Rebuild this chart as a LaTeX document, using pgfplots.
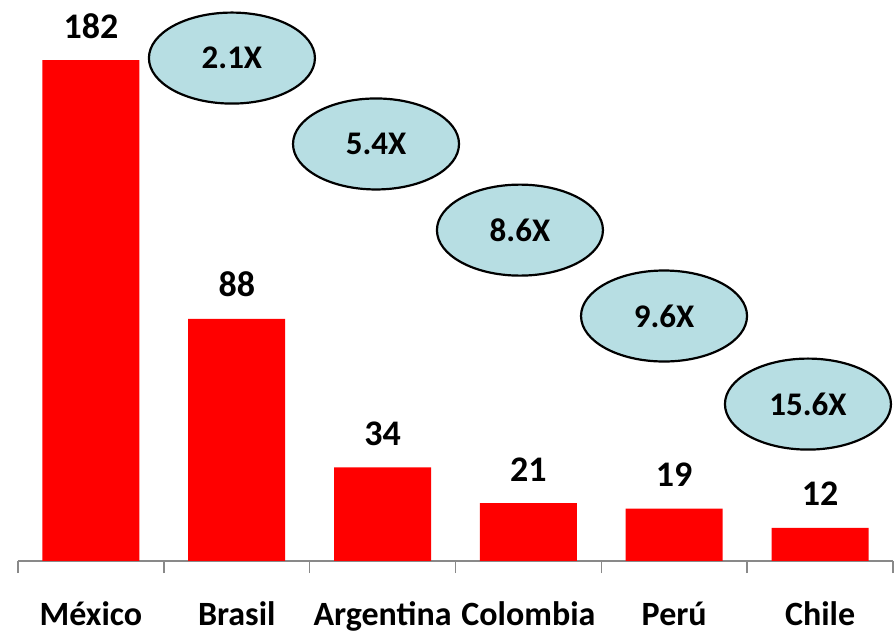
\documentclass[border=0pt]{standalone}
\usepackage{pgfplots}
\pgfplotsset{compat=1.18}
\usepackage{fontspec}
\setmainfont{Carlito}
\usetikzlibrary{shapes.geometric}
\definecolor{barred}{RGB}{255,0,0}
\definecolor{ellfill}{RGB}{183,222,227}
\definecolor{axgray}{RGB}{137,137,137}
\begin{document}
\begin{tikzpicture}
\useasboundingbox (-9pt,-36pt) rectangle (439pt,280.5pt);
\begin{axis}[
  scale only axis, width=437.5pt, height=280.5pt,
  xmin=-0.5, xmax=5.5, ymin=0, ymax=203.8,
  axis x line*=bottom, axis y line=none,
  x axis line style={axgray, line width=0.75pt, -},
  xtick={0,...,5},
  xticklabels={México,Brasil,Argentina,Colombia,Perú,Chile},
  major tick length=0pt,
  minor xtick={-0.5,0.5,...,5.5},
  minor tick length=6pt,
  xtick align=outside,
  tick style={axgray, line width=0.75pt},
  xticklabel style={font=\fontsize{17}{20}\selectfont\bfseries, anchor=base, yshift=-32.5pt},
  clip=false,
  nodes near coords={\pgfmathprintnumber[assume math mode=true]{\pgfplotspointmeta}},
  nodes near coords style={font=\fontsize{18}{21}\selectfont\bfseries, anchor=base, yshift=11pt, text=black},
]
\addplot[ybar, bar width=48.5pt, fill=barred, draw=none] coordinates {(0,182)(1,88)(2,34)(3,21)(4,19)(5,12)};
\tikzset{ell/.style={ellipse, draw=black, line width=1.1pt, fill=ellfill, minimum width=83pt, minimum height=45.5pt, inner sep=0pt, font=\fontsize{16.5}{19}\selectfont\bfseries}}
\node[ell] at (axis cs:0.967,182.7) {2.1X};
\node[ell] at (axis cs:1.955,151.5) {5.4X};
\node[ell] at (axis cs:2.942,120.2) {8.6X};
\node[ell] at (axis cs:3.93,89) {9.6X};
\node[ell] at (axis cs:4.917,57) {15.6X};
\end{axis}
\end{tikzpicture}
\end{document}
